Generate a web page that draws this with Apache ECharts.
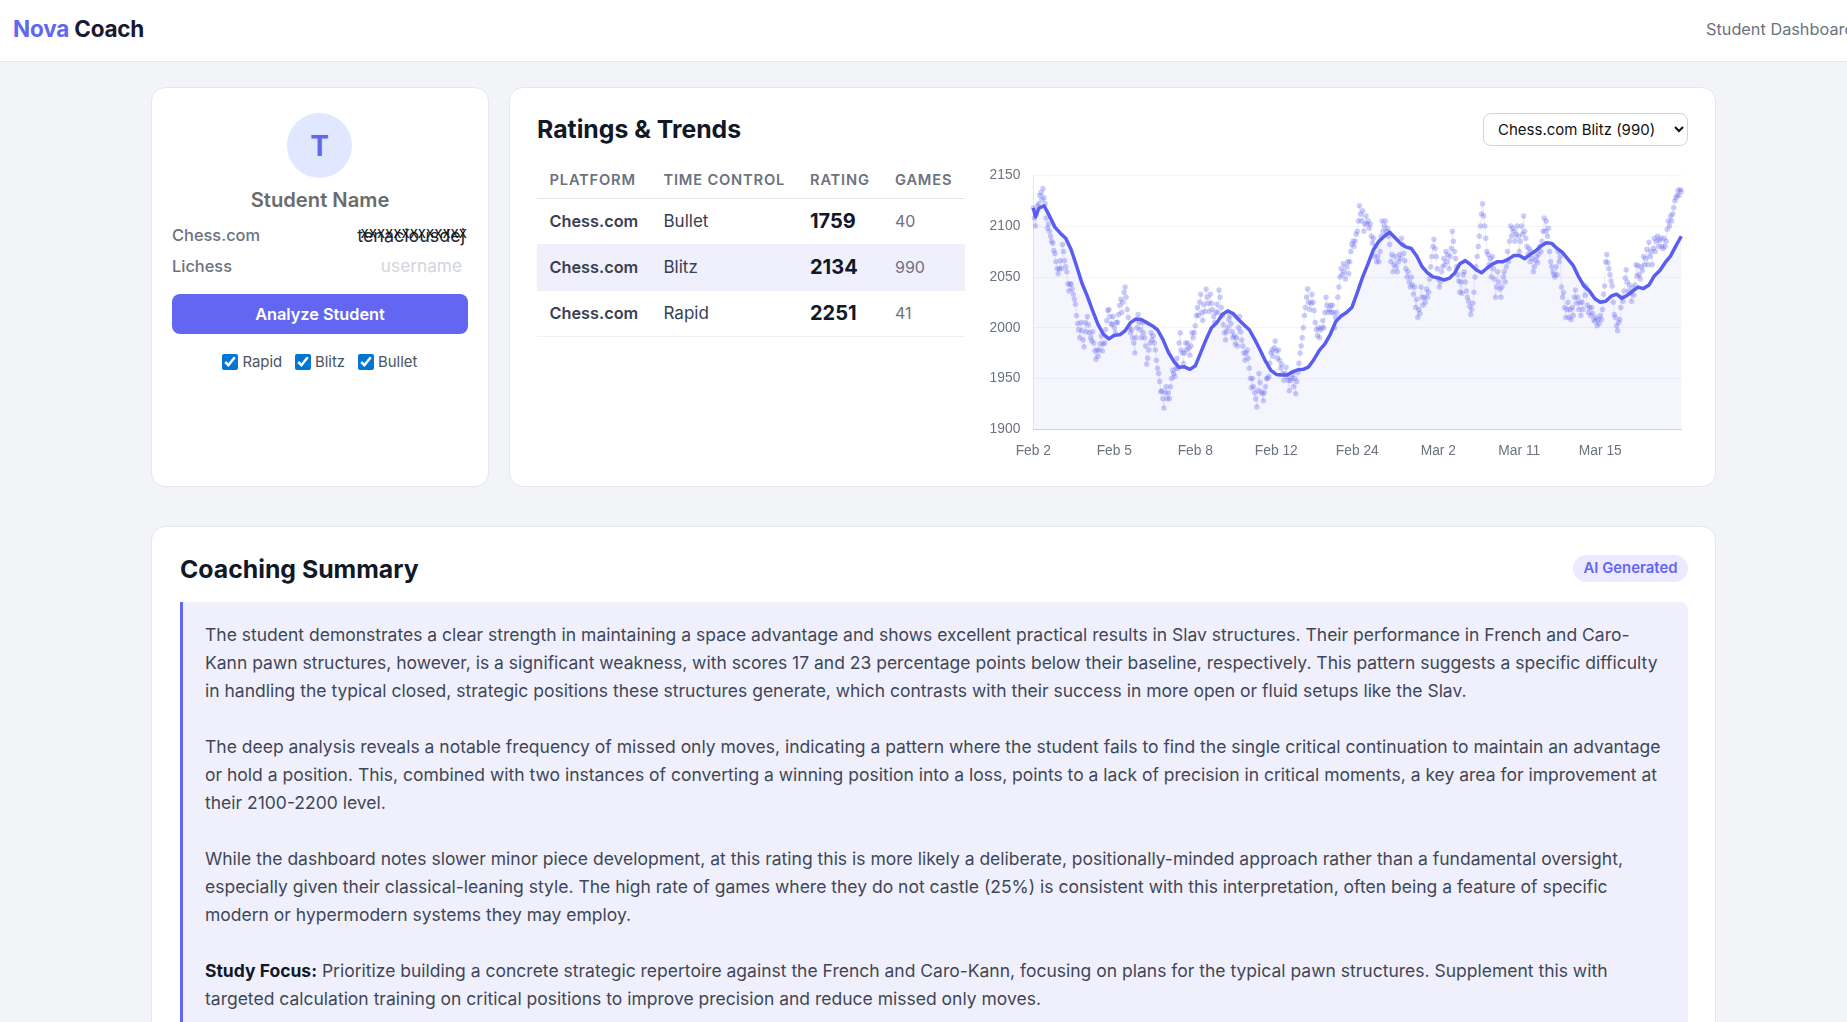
<!DOCTYPE html>
<html><head><meta charset="utf-8">
<script src="https://cdn.jsdelivr.net/npm/echarts@6/dist/echarts.min.js"></script>
<style>
html,body{margin:0;padding:0;width:1847px;height:1022px;overflow:hidden;background:#f3f4f8;font-family:Inter,sans-serif;color:#1f2937}
.a{position:absolute;white-space:nowrap;line-height:1}
.card{position:absolute;background:#fff;border:1px solid #e5e7eb;border-radius:14px;box-sizing:border-box}
.cy{transform:translateY(-50%)}
.th{font-size:14.7px;font-weight:600;letter-spacing:.8px;color:#6b7280}
.p{font-weight:600;font-size:16.3px;color:#374151}
.t{font-size:17px;color:#374151}
.r{font-weight:700;font-size:20px;color:#111827}
.g{font-size:16px;color:#6b7280}
.cb{position:absolute;margin:0;width:16px;height:16px;accent-color:#0075d4}
.lb{font-size:14.9px;color:#4b5563}
</style></head><body>
<div class="a" style="left:0;top:0;width:1847px;height:62px;background:#fff;border-bottom:1px solid #e5e7eb;box-sizing:border-box"></div>
<div class="a cy" style="left:13px;top:29px;font-size:22.5px;font-weight:700;color:#1a1a2e;letter-spacing:-.2px"><span style="color:#6366f1">Nova</span> Coach</div>
<div class="a cy" style="left:1706px;top:29px;font-size:16.3px;color:#6b7280">Student Dashboard</div>

<div class="card" style="left:151px;top:87px;width:338px;height:400px"></div>
<div class="a" style="left:287px;top:113px;width:65px;height:65px;border-radius:50%;background:#e0e7ff"></div>
<div class="a cy" style="left:287px;width:65px;text-align:center;top:146px;font-size:28px;font-weight:700;color:#6366f1">T</div>
<div class="a cy" style="left:151px;width:338px;text-align:center;top:200px;font-size:20.2px;font-weight:600;color:#6b6b6b">Student Name</div>
<div class="a cy" style="left:172px;top:235px;font-size:16.4px;font-weight:500;color:#6b7280">Chess.com</div>
<div class="a cy" style="left:172px;top:266px;font-size:16.4px;font-weight:500;color:#6b7280">Lichess</div>
<div class="a cy" style="right:1382px;top:236px;font-size:17.9px;color:#1f2937">tenaciousdej</div>
<div class="a cy" style="right:1380px;top:232px;font-size:15px;color:#111">xxxxxxxxxxxxx</div>
<div class="a cy" style="right:1385px;top:266px;font-size:17.25px;color:#d1d5db">username</div>
<div class="a" style="left:172px;top:294px;width:296px;height:40px;line-height:41px;border-radius:8px;background:#6366f1;color:#fff;font-weight:600;font-size:16.3px;text-align:center">Analyze Student</div>
<input class="cb" type="checkbox" checked style="left:222px;top:354px">
<input class="cb" type="checkbox" checked style="left:295px;top:354px">
<input class="cb" type="checkbox" checked style="left:358px;top:354px">
<div class="a cy lb" style="left:242.5px;top:362px">Rapid</div>
<div class="a cy lb" style="left:315px;top:362px">Blitz</div>
<div class="a cy lb" style="left:378px;top:362px">Bullet</div>

<div class="card" style="left:509px;top:87px;width:1207px;height:400px"></div>
<div class="a cy" style="left:537px;top:128.5px;font-size:24.8px;font-weight:700;color:#111827">Ratings &amp; Trends</div>
<select class="a" style="left:1483px;top:113px;width:205px;height:33px;border:1px solid #d1d5db;border-radius:8px;background:#fff;padding:0 10px;font-family:Inter,sans-serif;font-size:15px;color:#111"><option>Chess.com Blitz (990)</option></select>
<div class="a cy th" style="left:549.5px;top:180px">PLATFORM</div>
<div class="a cy th" style="left:663.5px;top:180px">TIME CONTROL</div>
<div class="a cy th" style="left:810px;top:180px">RATING</div>
<div class="a cy th" style="left:895px;top:180px">GAMES</div>
<div class="a" style="left:537px;top:198px;width:428px;height:1px;background:#e5e7eb"></div>
<div class="a" style="left:537px;top:244px;width:428px;height:47px;background:#eff0fc"></div>
<div class="a" style="left:537px;top:336px;width:428px;height:1px;background:#f0f1f4"></div>
<div class="a cy p" style="left:549.5px;top:221px">Chess.com</div><div class="a cy t" style="left:663.5px;top:221px">Bullet</div><div class="a cy r" style="left:810px;top:221px">1759</div><div class="a cy g" style="left:895px;top:221px">40</div>
<div class="a cy p" style="left:549.5px;top:267px">Chess.com</div><div class="a cy t" style="left:663.5px;top:267px">Blitz</div><div class="a cy r" style="left:810px;top:267px">2134</div><div class="a cy g" style="left:895px;top:267px">990</div>
<div class="a cy p" style="left:549.5px;top:313px">Chess.com</div><div class="a cy t" style="left:663.5px;top:313px">Rapid</div><div class="a cy r" style="left:810px;top:313px">2251</div><div class="a cy g" style="left:895px;top:313px">41</div>

<div id="chart" class="a" style="left:971px;top:151px;width:730px;height:320px"></div>

<div class="card" style="left:151px;top:526px;width:1565px;height:600px"></div>
<div class="a cy" style="left:180px;top:569px;font-size:24.8px;font-weight:700;color:#111827">Coaching Summary</div>
<div class="a" style="left:1573px;top:555px;width:115px;height:27px;line-height:27px;border-radius:14px;background:#ede9fe;color:#6366f1;font-size:14.9px;font-weight:600;text-align:center">AI Generated</div>
<div class="a" style="left:180px;top:602px;width:1508px;height:500px;box-sizing:border-box;background:#f0f0fd;border-left:3px solid #6366f1;border-radius:0 8px 0 0;padding:19px 0 0 22px;color:#3f4757;font-size:17.5px;line-height:28px">The student demonstrates a clear strength in maintaining a space advantage and shows excellent practical results in Slav structures. Their performance in French and Caro-<br>Kann pawn structures, however, is a significant weakness, with scores 17 and 23 percentage points below their baseline, respectively. This pattern suggests a specific difficulty<br>in handling the typical closed, strategic positions these structures generate, which contrasts with their success in more open or fluid setups like the Slav.<br><br>The deep analysis reveals a notable frequency of missed only moves, indicating a pattern where the student fails to find the single critical continuation to maintain an advantage<br>or hold a position. This, combined with two instances of converting a winning position into a loss, points to a lack of precision in critical moments, a key area for improvement at<br>their 2100-2200 level.<br><br>While the dashboard notes slower minor piece development, at this rating this is more likely a deliberate, positionally-minded approach rather than a fundamental oversight,<br>especially given their classical-leaning style. The high rate of games where they do not castle (25%) is consistent with this interpretation, often being a feature of specific<br>modern or hypermodern systems they may employ.<br><br><b style="color:#111827">Study Focus:</b> Prioritize building a concrete strategic repertoire against the French and Caro-Kann, focusing on plans for the typical pawn structures. Supplement this with<br>targeted calculation training on critical positions to improve precision and reduce missed only moves.</div>

<script>
const tickLabels = ['Feb 2','Feb 5','Feb 8','Feb 12','Feb 24','Mar 2','Mar 11','Mar 15'];
const ticksEvery = 75;
const yTicks = {min:1900,max:2150,interval:50};
const ratings = [
2118,2108,2100,2112,2120,2122,2130,2133,2126,2137,2128,2122,2108,2098,2102,2095,2090,2085,2083,2076,2073,2065,2058,2053,2058,2066,2058,2082,2075,2066,2060,2055,2043,2036,2043,2043,2038,2033,2028,2023,2012,2004,1998,1990,2005,1997,1988,1981,2005,1996,2011,2003,1995,1990,1987,1996,1985,1977,1969,1978,1972,1978,1984,1992,1977,1984,1985,1998,2007,2017,2018,2011,2004,2003,2011,
2000,1995,2005,2005,2013,2022,2028,2015,2025,2035,2040,2030,2018,2010,2000,1995,1998,1990,1985,1975,1990,2000,2013,2005,1998,1990,2005,1995,1990,1982,1964,1970,1978,1985,1995,1988,1992,1985,1978,1968,1960,1955,1947,1937,1938,1930,1921,1936,1942,1930,1936,1930,1942,1950,1958,1955,1952,1960,1970,1960,1985,1995,1978,1975,1965,1975,1985,1978,1985,1980,1973,1982,1995,1990,1995,
2002,2012,2020,2012,2025,2033,2015,2007,2023,2016,2038,2030,2024,2016,2033,2024,2018,2011,2005,2015,2023,2015,2037,2030,2020,2012,2003,1995,1988,1996,2000,2008,2012,2004,1996,1990,1992,1984,1990,1982,2000,2011,1996,1988,1982,1975,1968,1975,1978,1970,1960,1950,1941,1950,1942,1936,1930,1922,1938,1955,1946,1937,1935,1928,1936,1942,1950,1950,1952,1965,1975,1978,1972,1980,1987,
1977,1970,1978,1968,1960,1964,1955,1948,1955,1961,1952,1948,1938,1948,1950,1954,1942,1950,1935,1947,1956,1965,1975,1982,1990,2000,2012,2020,2030,2038,2025,2018,2024,2033,2025,2017,2005,1998,1992,2000,1990,1998,2000,2007,2000,2015,2030,2022,2015,2018,2022,2015,2022,2015,2000,2010,2015,2030,2040,2050,2058,2052,2063,2055,2048,2060,2065,2053,2065,2075,2082,2085,2080,2085,2092,
2095,2105,2120,2112,2105,2115,2095,2102,2110,2102,2105,2098,2102,2090,2083,2088,2070,2080,2065,2070,2065,2075,2090,2105,2095,2100,2105,2095,2098,2090,2082,2065,2072,2055,2062,2070,2060,2055,2065,2072,2068,2088,2082,2073,2066,2058,2050,2055,2045,2040,2050,2042,2033,2040,2020,2028,2010,2018,2014,2040,2030,2022,2030,2025,2038,2030,2035,2048,2060,2070,2080,2087,2078,2070,2058,
2048,2040,2045,2055,2060,2068,2062,2075,2065,2072,2058,2070,2078,2095,2085,2075,2068,2060,2052,2046,2035,2045,2034,2052,2055,2045,2036,2030,2026,2021,2013,2018,2024,2035,2050,2060,2070,2080,2090,2100,2112,2122,2110,2100,2088,2075,2072,2062,2068,2050,2070,2058,2048,2030,2040,2055,2045,2038,2030,2040,2050,2055,2045,2060,2075,2065,2085,2100,2090,2098,2095,2085,2092,2100,2090,
2075,2085,2100,2092,2110,2095,2088,2080,2072,2078,2065,2075,2068,2055,2060,2066,2070,2064,2072,2080,2075,2085,2095,2108,2095,2105,2090,2098,2075,2065,2060,2055,2052,2050,2060,2052,2075,2065,2070,2040,2030,2035,2020,2010,2018,2025,2010,2018,2008,2020,2012,2030,2037,2024,2030,2018,2025,2012,2025,2018,2042,2032,2040,2022,2015,2020,2012,2020,2014,2008,2006,2010,2002,2008,2004,
2012,2008,2018,2033,2041,2065,2072,2064,2058,2052,2046,2041,2025,2013,2010,2002,1997,2005,2008,2020,2030,2026,2036,2049,2057,2045,2036,2042,2034,2026,2039,2032,2042,2062,2051,2061,2052,2048,2060,2056,2070,2062,2068,2077,2062,2084,2070,2075,2062,2078,2088,2075,2085,2090,2080,2086,2088,2080,2078,2088,2080,2085,2097,2105,2100,2110,2105,2112,2118,2125,2128,2130,2135,2130,2136,2134];
const trendEvery = 5;
const trendStart = [[0,2118],[2,2109]];
const trend = [2117,2117.5,2120,2110,2099,2093,2088,2077,2061,2044,2031,2016.5,2003,1993.5,1989,1992.5,1993,1997,2005,2008.5,2008,2005,2002,1998,1988.5,1976,1967,1961,1961.5,1959,1962.5,1975.5,1988.5,2000,2005,2013,2016.5,2014,2008,2003,1998,1988.5,1978,1967,1958,1954,1953.5,1953.5,1956.5,1958.5,1959,1961.5,1969,1978,1984,1993.5,2006,2011.5,2015,2020,2034.5,2050,2063,2077,2085,2090,2094,2088.5,2083,2079.5,2078,2070.5,2060,2054,2050,2049,2047,2048.5,2053.5,2063,2066,2062,2057,2054,2058.5,2062.5,2065,2065,2067.5,2071,2071,2068,2072,2075.5,2080.5,2083.5,2083,2078,2074,2067.5,2061,2050,2041,2036,2028.5,2025,2026,2031,2033,2029,2032,2036,2040,2038.5,2042,2051,2056,2064,2070.5,2080.5,2090];

const categories = ratings.map((_, i) => (i % ticksEvery === 0 && tickLabels[i / ticksEvery]) || '');
const chart = echarts.init(document.getElementById('chart'), null, {renderer:'canvas'});
chart.setOption({
  animation:false,
  grid:{left:62.3,top:24.3,width:648,height:254,containLabel:false},
  xAxis:{type:'category',data:categories,boundaryGap:false,
    axisLine:{lineStyle:{color:'#d1d5db',width:1}},axisTick:{show:false},splitLine:{show:false},
    axisLabel:{interval:ticksEvery-1,color:'#6b7280',fontSize:13.8,fontFamily:'Liberation Sans',margin:15,hideOverlap:false}},
  yAxis:{type:'value',min:yTicks.min,max:yTicks.max,interval:yTicks.interval,
    axisLine:{show:true,lineStyle:{color:'#e5e7eb',width:1}},axisTick:{show:false},
    splitLine:{lineStyle:{color:'#f3f4f6',width:1}},
    axisLabel:{color:'#6b7280',fontSize:13.8,fontFamily:'Liberation Sans',margin:13,formatter:v=>String(v)}},
  series:[
    {type:'line',name:'Games',data:ratings,symbol:'circle',symbolSize:5.5,showSymbol:true,showAllSymbol:true,z:2,
      itemStyle:{color:'#6366f1',opacity:.33},lineStyle:{color:'#6366f1',width:1,opacity:.12},silent:true},
    {type:'line',name:'Trend',data:trendStart.concat(trend.slice(1).map((v,k)=>[(k+1)*trendEvery,v])),showSymbol:false,smooth:false,z:3,
      lineStyle:{color:'#5a5ef0',width:3.5,join:'round'},areaStyle:{color:'rgba(99,102,241,0.09)'},silent:true}
  ]
});
</script>
</body></html>
